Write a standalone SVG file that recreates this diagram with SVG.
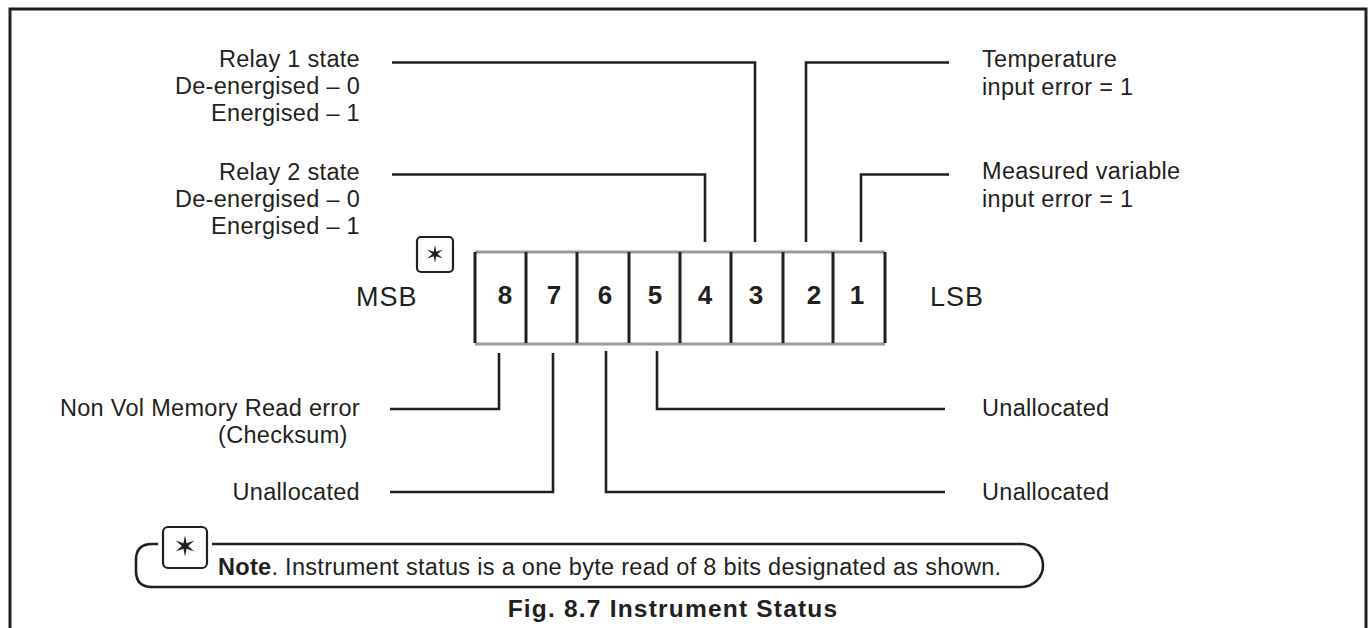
<svg xmlns="http://www.w3.org/2000/svg" xmlns:xlink="http://www.w3.org/1999/xlink" width="1372" height="628" viewBox="0 0 1372 628">
<style>
.t{font-family:"Liberation Sans",Arial,Helvetica,sans-serif;font-size:23.5px;fill:#231f20;letter-spacing:0.3px}
.r{text-anchor:end}
.d{font-family:"Liberation Sans",Arial,Helvetica,sans-serif;font-size:26px;font-weight:bold;fill:#231f20;text-anchor:middle}
.big{font-family:"Liberation Sans",Arial,Helvetica,sans-serif;font-size:27px;fill:#231f20;letter-spacing:1px}
.ln{fill:none;stroke:#231f20;stroke-width:2.6}
.gr{fill:none;stroke:#9a9a9a;stroke-width:3}
.vb{stroke:#231f20;stroke-width:3}
.bx{fill:#fff;stroke:#231f20;stroke-width:2.2}
</style>
<defs>
<polygon id="star" points="0,-9 1.3,-2.25 7.79,-4.5 2.6,0 7.79,4.5 1.3,2.25 0,9 -1.3,2.25 -7.79,4.5 -2.6,0 -7.79,-4.5 -1.3,-2.25" fill="#231f20"/>
</defs>
<rect width="1372" height="628" fill="#fff"/>
<path id="frame" d="M10,628 V9 H1366 V628" fill="none" stroke="#231f20" stroke-width="3"/>

<g id="register">
<line class="gr" x1="475" y1="252" x2="885" y2="252"/>
<line class="gr" x1="475" y1="344" x2="885" y2="344"/>
<line class="vb" x1="475" y1="252" x2="475" y2="343"/>
<line class="vb" x1="526" y1="252" x2="526" y2="343"/>
<line class="vb" x1="577" y1="252" x2="577" y2="343"/>
<line class="vb" x1="629" y1="252" x2="629" y2="343"/>
<line class="vb" x1="680" y1="252" x2="680" y2="343"/>
<line class="vb" x1="731" y1="252" x2="731" y2="343"/>
<line class="vb" x1="783" y1="252" x2="783" y2="343"/>
<line class="vb" x1="833" y1="252" x2="833" y2="343"/>
<line class="vb" x1="885" y1="252" x2="885" y2="343"/>
<text class="d" x="505" y="304">8</text>
<text class="d" x="554" y="304">7</text>
<text class="d" x="605" y="304">6</text>
<text class="d" x="655" y="304">5</text>
<text class="d" x="705" y="304">4</text>
<text class="d" x="756" y="304">3</text>
<text class="d" x="814" y="304">2</text>
<text class="d" x="857" y="304">1</text>
</g>

<g id="msb">
<text class="big" x="356" y="306">MSB</text>
<rect class="bx" x="417" y="237" width="36" height="35" rx="4"/>
<use xlink:href="#star" href="#star" x="435" y="254"/>
</g>
<g id="lsb"><text class="big" x="930" y="306">LSB</text></g>

<g id="connectors">
<polyline class="ln" points="392,62.5 755,62.5 755,242"/>
<polyline class="ln" points="392,174.5 705,174.5 705,242"/>
<polyline class="ln" points="949,62.5 806,62.5 806,242"/>
<polyline class="ln" points="949,174.5 861,174.5 861,242"/>
<polyline class="ln" points="499,353 499,409 390,409"/>
<polyline class="ln" points="553,353 553,492 390,492"/>
<polyline class="ln" points="606,351 606,492 945,492"/>
<polyline class="ln" points="657,351 657,409 945,409"/>
</g>

<g id="relay1">
<text class="t r" x="360" y="67">Relay 1 state</text>
<text class="t r" x="360" y="94">De-energised – 0</text>
<text class="t r" x="360" y="121">Energised – 1</text>
</g>
<g id="relay2">
<text class="t r" x="360" y="180">Relay 2 state</text>
<text class="t r" x="360" y="207">De-energised – 0</text>
<text class="t r" x="360" y="234">Energised – 1</text>
</g>
<g id="temperature">
<text class="t" x="982" y="67">Temperature</text>
<text class="t" x="982" y="95">input error = 1</text>
</g>
<g id="measured">
<text class="t" x="982" y="179">Measured variable</text>
<text class="t" x="982" y="207">input error = 1</text>
</g>
<g id="nonvol">
<text class="t r" x="360" y="416" letter-spacing="0.6">Non Vol Memory Read error</text>
<text class="t" x="218" y="443">(Checksum)</text>
</g>
<g id="unalloc7"><text class="t r" x="360" y="500">Unallocated</text></g>
<g id="unalloc5"><text class="t" x="982" y="416">Unallocated</text></g>
<g id="unalloc6"><text class="t" x="982" y="500">Unallocated</text></g>

<g id="note">
<path class="ln" d="M158,544 H152 Q136,544 136,560 V571 Q136,587 152,587 H1021.5 A21.5,21.5 0 0 0 1021.5,544 H212"/>
<rect class="bx" x="163" y="527" width="44" height="41" rx="5"/>
<use xlink:href="#star" href="#star" transform="translate(185,546) scale(1.2)"/>
<text class="t" x="218" y="575" letter-spacing="0.45"><tspan font-weight="bold">Note</tspan>. Instrument status is a one byte read of 8 bits designated as shown.</text>
</g>
<g id="caption">
<text x="673" y="617" text-anchor="middle" font-family="Liberation Sans, Arial, Helvetica, sans-serif" font-size="24.5" font-weight="bold" fill="#231f20" letter-spacing="1.2">Fig. 8.7 Instrument Status</text>
</g>
</svg>
